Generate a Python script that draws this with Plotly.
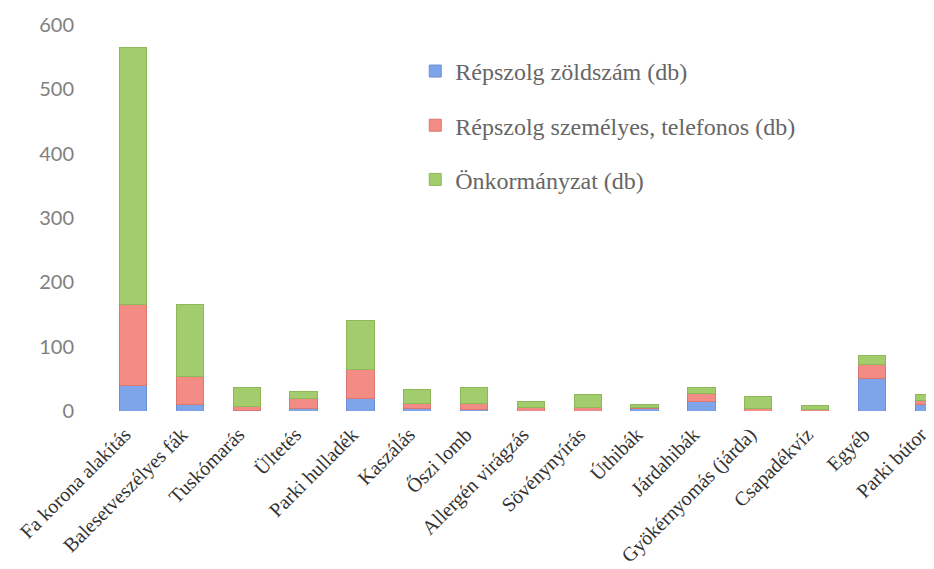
import plotly.graph_objects as go

categories = ["Fa korona alakítás", "Balesetveszélyes fák", "Tuskómarás", "Ültetés",
              "Parki hulladék", "Kaszálás", "Őszi lomb", "Allergén virágzás",
              "Sövénynyírás", "Úthibák", "Járdahibák", "Gyökérnyomás (járda)",
              "Csapadékvíz", "Egyéb", "Parki bútor"]

zoldszam = [40, 10, 1, 4, 20, 4, 2, 0, 0, 4, 15, 0, 0, 50, 10]
szemelyes = [125, 44, 6, 15, 44, 8, 10, 5, 6, 1, 12, 4, 2, 22, 6]
onkormanyzat = [400, 112, 29, 11, 76, 22, 25, 9, 20, 5, 10, 18, 6, 15, 9]

series_names = ["Répszolg zöldszám (db)", "Répszolg személyes, telefonos (db)", "Önkormányzat (db)"]
series_values = [zoldszam, szemelyes, onkormanyzat]
colors = ["#7EA5EA", "#F28C85", "#A3CD6D"]
edge_colors = ["#6A8FD2", "#DC7770", "#8DB85A"]

y_ticks = [0, 100, 200, 300, 400, 500, 600]

fig = go.Figure()
for i, (name, vals) in enumerate(zip(series_names, series_values)):
    fig.add_trace(go.Bar(
        x=categories, y=vals, name=name,
        marker=dict(color=colors[i], line=dict(color=edge_colors[i], width=1)),
        width=0.48, legendgroup=f"g{i}",
    ))

fig.update_layout(
    barmode="stack",
    width=926, height=561,
    margin=dict(l=92, r=0, t=17, b=158),
    paper_bgcolor="white", plot_bgcolor="white",
    showlegend=True,
    legend=dict(
        x=0.378, y=0.938, xanchor="left", yanchor="top",
        traceorder="grouped", tracegroupgap=20,
        font=dict(family="Liberation Serif", size=24, color="#666666"),
        bgcolor="rgba(0,0,0,0)",
    ),
    xaxis=dict(
        range=[-0.58, 14.09], showline=False, showgrid=False, zeroline=False,
        tickangle=-45, ticks="", automargin=False,
        ticklabelshift=-8, ticklabelstandoff=7,
        tickfont=dict(family="Liberation Serif", size=20, color="#333333"),
    ),
    yaxis=dict(
        range=[0, 600], tickvals=y_ticks, showline=False, showgrid=False,
        zeroline=False, ticks="", automargin=False, ticklabelstandoff=25,
        tickfont=dict(family="Lato", size=20, color="#808080"),
    ),
)

fig.write_html("out.html")
